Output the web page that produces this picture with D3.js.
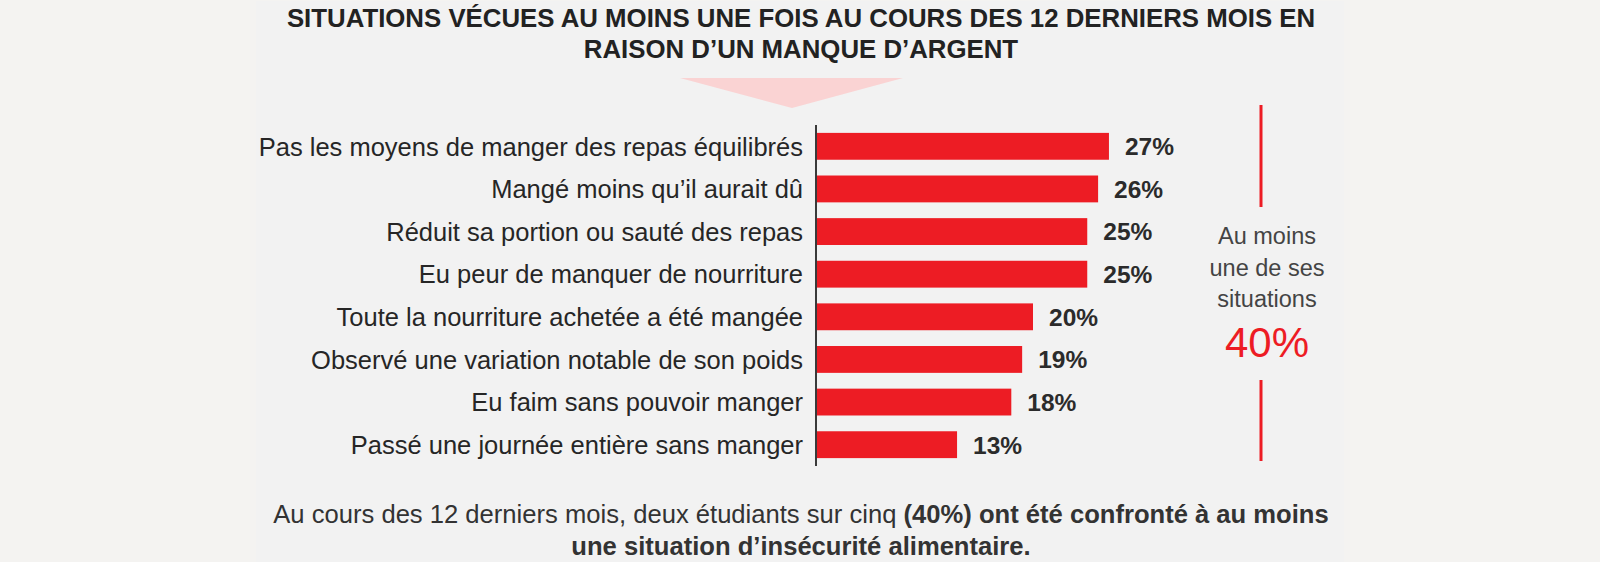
<!DOCTYPE html>
<html><head><meta charset="utf-8">
<script src="https://cdn.jsdelivr.net/npm/d3@7"></script>
<style>html,body{margin:0;padding:0;background:#f4f3f1;}svg{display:block;}</style>
</head><body>
<svg id="chart" width="1600" height="562"></svg>
<script>
const categories = [
  "Pas les moyens de manger des repas équilibrés",
  "Mangé moins qu’il aurait dû",
  "Réduit sa portion ou sauté des repas",
  "Eu peur de manquer de nourriture",
  "Toute la nourriture achetée a été mangée",
  "Observé une variation notable de son poids",
  "Eu faim sans pouvoir manger",
  "Passé une journée entière sans manger"
];
const values = [27, 26, 25, 25, 20, 19, 18, 13];
const titleLines = [
  "SITUATIONS VÉCUES AU MOINS UNE FOIS AU COURS DES 12 DERNIERS MOIS EN",
  "RAISON D’UN MANQUE D’ARGENT"
];
const summaryLines = ["Au moins", "une de ses", "situations"];
const summaryValue = 40;
const footRegular = "Au cours des 12 derniers mois, deux étudiants sur cinq ";
const footBold1 = "(40%) ont été confronté à au moins";
const footBold2 = "une situation d’insécurité alimentaire.";

const svg = d3.select("#chart");
const FONT = "'Liberation Sans', Arial, sans-serif";
const RED = "#ed1c24";

// panel
svg.append("rect").attr("x", 256).attr("y", 1).attr("width", 1088).attr("height", 561).attr("fill", "#f2f2f2");

// title
const title = svg.append("text").attr("text-anchor", "middle").attr("font-family", FONT)
  .attr("font-weight", "bold").attr("font-size", 25.8).attr("fill", "#222");
titleLines.forEach((t, i) => title.append("tspan").attr("x", 801).attr("y", 26.7 + i * 30.8).text(t));

// triangle
svg.append("path").attr("d", d3.line()([[680, 78], [903, 78], [792, 108]]) + "Z").attr("fill", "#fad3d3");

// scales
const x = d3.scaleLinear().domain([0, 30]).range([816, 816 + 30 * 10.85]);
const y = d3.scaleBand().domain(categories).range([125, 466]).paddingInner(0.37).paddingOuter(0.185);

// bars
svg.append("g").selectAll("rect").data(values).join("rect")
  .attr("x", x(0)).attr("y", (d, i) => y(categories[i]))
  .attr("width", d => x(d) - x(0)).attr("height", y.bandwidth()).attr("fill", RED);

// value labels
svg.append("g").selectAll("text").data(values).join("text")
  .attr("x", d => x(d) + 16).attr("y", (d, i) => y(categories[i]) + y.bandwidth() / 2)
  .attr("dy", "0.36em").attr("font-family", FONT).attr("font-weight", "bold")
  .attr("font-size", 24.5).attr("fill", "#2b2b2b").text(d => d + "%");

// category axis
const axis = d3.axisLeft(y).tickSize(0).tickPadding(13);
const ga = svg.append("g").attr("transform", `translate(${x(0)},0)`).call(axis);
ga.select(".domain").remove();
ga.selectAll("text").attr("font-family", FONT).attr("font-size", 25.5).attr("fill", "#262626").attr("dy", "0.36em");
svg.append("line").attr("x1", x(0)).attr("x2", x(0)).attr("y1", 125).attr("y2", 466)
  .attr("stroke", "#3a3a3a").attr("stroke-width", 2);

// right summary
svg.append("line").attr("x1", 1261).attr("x2", 1261).attr("y1", 105).attr("y2", 207).attr("stroke", RED).attr("stroke-width", 3);
svg.append("line").attr("x1", 1261).attr("x2", 1261).attr("y1", 380).attr("y2", 461).attr("stroke", RED).attr("stroke-width", 3);
const sum = svg.append("text").attr("text-anchor", "middle").attr("font-family", FONT).attr("font-size", 23.5).attr("fill", "#444");
summaryLines.forEach((t, i) => sum.append("tspan").attr("x", 1267).attr("y", 244 + i * 31.5).text(t));
svg.append("text").attr("x", 1267).attr("y", 356.5).attr("text-anchor", "middle").attr("font-family", FONT)
  .attr("font-size", 42).attr("fill", RED).text(summaryValue + "%");

// footnote
const f1 = svg.append("text").attr("x", 801).attr("y", 523).attr("text-anchor", "middle")
  .attr("font-family", FONT).attr("font-size", 25.6).attr("fill", "#333");
f1.append("tspan").text(footRegular);
f1.append("tspan").attr("font-weight", "bold").text(footBold1);
svg.append("text").attr("x", 801).attr("y", 555).attr("text-anchor", "middle")
  .attr("font-family", FONT).attr("font-size", 25.6).attr("font-weight", "bold").attr("fill", "#333").text(footBold2);
</script>
</body></html>
